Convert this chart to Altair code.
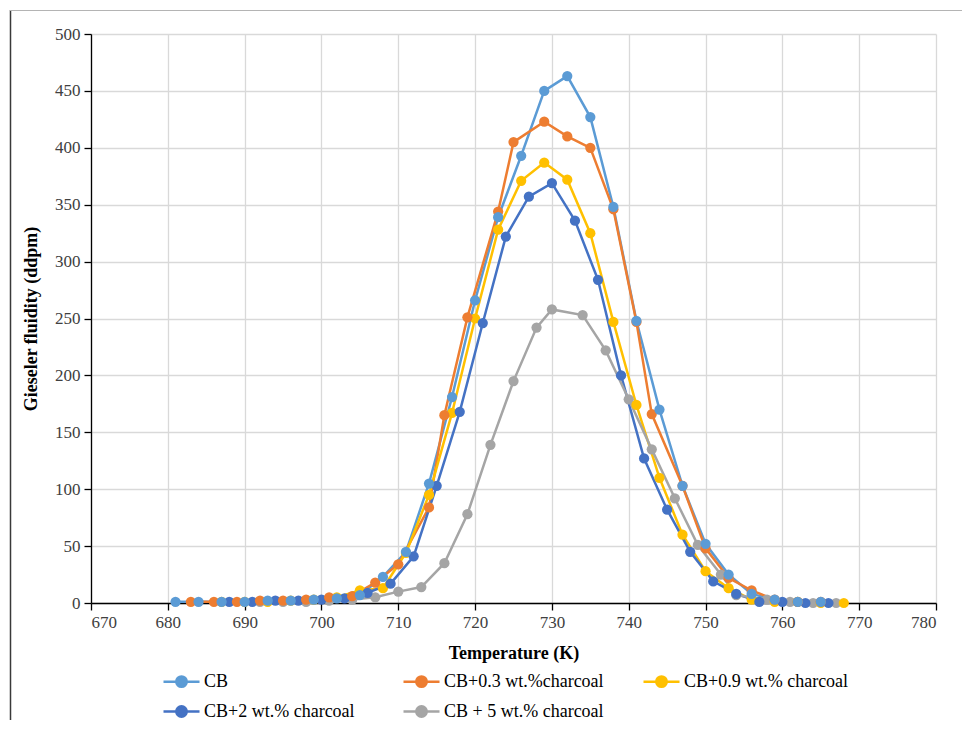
import altair as alt
import pandas as pd

# ---- data ----
series_names = ["CB", "CB+0.3 wt.%charcoal", "CB+0.9 wt.% charcoal",
                "CB+2 wt.% charcoal", "CB + 5 wt.% charcoal"]
series_colors = ["#5B9BD5", "#ED7D31", "#FFC000", "#4472C4", "#A5A5A5"]

cb_t = [681, 684, 687, 690, 693, 696, 699, 702, 705, 708, 711, 714, 717, 720, 723,
        726, 729, 732, 735, 738, 741, 744, 747, 750, 753, 756, 759, 762, 765]
cb_v = [1, 1, 1, 1, 2, 2, 3, 4, 7, 23, 45, 105, 181, 266, 339,
        393, 450, 463, 427, 348, 248, 170, 103, 52, 25, 8, 3, 1, 1]

c03_t = [683, 686, 689, 692, 695, 698, 701, 704, 707, 710, 714, 716, 719, 723,
         725, 729, 732, 735, 738, 741, 743, 747, 750, 753, 756, 759, 762, 765]
c03_v = [1, 1, 1, 2, 2, 3, 5, 6, 18, 34, 84, 165, 251, 344,
         405, 423, 410, 400, 346, 247, 166, 103, 48, 22, 11, 3, 1, 1]

c09_t = [687, 690, 693, 696, 699, 702, 705, 708, 711, 714, 717, 720, 723, 726,
         729, 732, 735, 738, 741, 744, 747, 750, 753, 756, 759, 762, 765, 768]
c09_v = [1, 1, 1, 2, 3, 5, 11, 13, 44, 95, 167, 250, 328, 371,
         387, 372, 325, 247, 174, 110, 60, 28, 13, 3, 1, 1, 0, 0]

c2_t = [688, 691, 694, 697, 700, 703, 706, 709, 712, 715, 718, 721, 724, 727,
        730, 733, 736, 739, 742, 745, 748, 751, 754, 757, 760, 763, 766]
c2_v = [1, 1, 2, 2, 3, 4, 9, 17, 41, 103, 168, 246, 322, 357,
        369, 336, 284, 200, 127, 82, 45, 19, 8, 1, 1, 0, 0]

c5_t = [692, 695, 698, 701, 704, 707, 710, 713, 716, 719, 722, 725, 728,
        730, 734, 737, 740, 743, 746, 749, 752, 754, 758, 761, 764, 767]
c5_v = [1, 1, 1, 2, 3, 5, 10, 14, 35, 78, 139, 195, 242,
        258, 253, 222, 179, 135, 92, 51, 25, 7, 3, 1, 0, 0]

x_ticks = list(range(670, 781, 10))
y_ticks = list(range(0, 501, 50))

rows = []
for name, ts, vs in zip(series_names, [cb_t, c03_t, c09_t, c2_t, c5_t],
                        [cb_v, c03_v, c09_v, c2_v, c5_v]):
    for i, (t, v) in enumerate(zip(ts, vs)):
        rows.append({"series": name, "T": t, "F": v, "order": i})
df = pd.DataFrame(rows)

FONT = "Liberation Serif"
LEG_PATH = ("M-1,0L1,0M-0.29,0A0.29,0.29,0,1,1,0.29,0"
            "A0.29,0.29,0,1,1,-0.29,0Z")

color = alt.Color(
    "series:N",
    scale=alt.Scale(domain=series_names, range=series_colors),
    sort=series_names,
    legend=alt.Legend(
        title=None, orient="none", legendX=71, legendY=628, direction="horizontal",
        columns=3, columnPadding=29, rowPadding=-6, padding=0, gridAlign="all",
        symbolType=LEG_PATH, symbolSize=1296, symbolStrokeWidth=2.5,
        labelFont=FONT, labelFontSize=18, labelColor="#000000", labelOffset=3,
        labelLimit=400,
    ),
)

lines = alt.Chart(df).mark_line(
    strokeWidth=2.5,
    point=alt.OverlayMarkDef(filled=True, size=105, opacity=1),
).encode(
    x=alt.X("T:Q", scale=alt.Scale(domain=[670, 780], nice=False),
            axis=alt.Axis(values=x_ticks, title="Temperature (K)", format="d")),
    y=alt.Y("F:Q", scale=alt.Scale(domain=[0, 500], nice=False),
            axis=alt.Axis(values=y_ticks, title="Gieseler fluidity (ddpm)")),
    color=color,
    order="order:Q",
)

# chart-area frame (left and top edges visible in the reference)
frame_left = alt.Chart().mark_rule(color="#3a3a3a", strokeWidth=1.5).encode(
    x=alt.value(-80.5), y=alt.value(-24), y2=alt.value(690))
frame_top = alt.Chart().mark_rule(color="#b4b4b4", strokeWidth=1).encode(
    y=alt.value(-23.5), x=alt.value(-81), x2=alt.value(880))

chart = alt.layer(lines, frame_left, frame_top).properties(
    width=845, height=569,
    autosize=alt.AutoSizeParams(type="none"),
    padding={"left": 83, "top": 26, "right": 26, "bottom": 117},
).configure_view(
    stroke=None,
).configure_axis(
    labelFont=FONT, labelFontSize=17, labelColor="#404040",
    titleFont=FONT, titleFontSize=18, titleFontWeight="bold", titleColor="#000000",
    gridColor="#d9d9d9", gridWidth=1.3,
    domainColor="#000000", domainWidth=1.3,
    tickColor="#000000", tickSize=7, tickWidth=1.3,
    labelPadding=4,
).configure_axisX(
    titlePadding=14,
).configure_axisY(
    titlePadding=14,
)

chart.save("out.html", embed_options={"renderer": "svg", "actions": False})
